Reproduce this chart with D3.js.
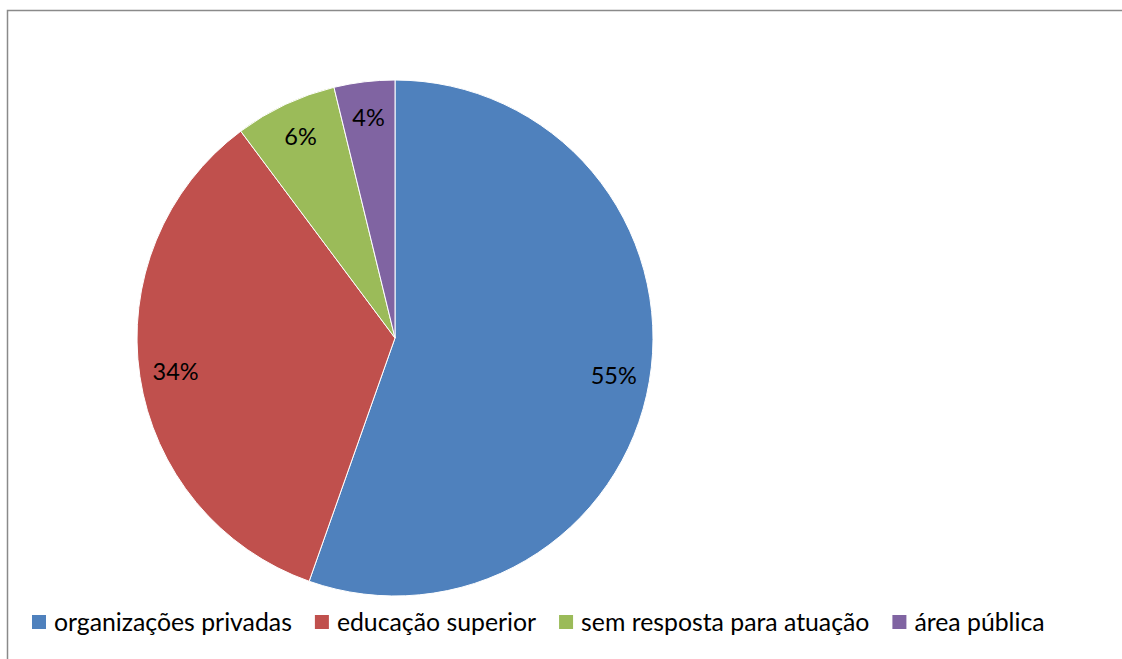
<!DOCTYPE html>
<html><head><meta charset="utf-8">
<script src="https://cdn.jsdelivr.net/npm/d3@7"></script>
<style>html,body{margin:0;padding:0;background:#fff;overflow:hidden}</style>
</head><body>
<svg id="c" width="1122" height="659"></svg>
<script>
const categories = ["organizações privadas", "educação superior", "sem resposta para atuação", "área pública"];
const values = [55.4, 34.4, 6.4, 3.8];
const labels = ["55%", "34%", "6%", "4%"];
const colors = ["#4F81BD", "#C0504D", "#9BBB59", "#8064A2"];

const svg = d3.select("#c");
const font = "Lato, 'Open Sans', sans-serif";

// frame
svg.append("rect").attr("x", 7.5).attr("y", 10.5).attr("width", 1140).attr("height", 700)
  .attr("fill", "none").attr("stroke", "#8a8a8a").attr("stroke-width", 1.5);

const cx = 395, cy = 338, r = 258;
const pie = d3.pie().sort(null).value(d => d)(values);
const arc = d3.arc().innerRadius(0).outerRadius(r);
const labelArc = d3.arc().innerRadius(r * 0.86).outerRadius(r * 0.86);
const g = svg.append("g").attr("transform", `translate(${cx},${cy})`);
g.selectAll("path").data(pie).join("path")
  .attr("d", arc).attr("fill", (d, i) => colors[i])
  .attr("stroke", "#fff").attr("stroke-width", 1);
g.selectAll("text").data(pie).join("text")
  .attr("transform", d => { const c = labelArc.centroid(d); return `translate(${c[0]},${c[1]})`; })
  .attr("text-anchor", "middle").attr("dy", "0.35em")
  .style("font-family", font).style("font-size", "23.5px").attr("fill", "#000")
  .text((d, i) => labels[i]);

// legend
const lg = svg.append("g");
let x = 32;
const ly = 622;
categories.forEach((c, i) => {
  lg.append("rect").attr("x", x).attr("y", ly - 7).attr("width", 14).attr("height", 14).attr("fill", colors[i]);
  const t = lg.append("text").attr("x", x + 22).attr("y", ly).attr("dy", "0.35em")
    .style("font-family", font).style("font-size", "24.8px").attr("fill", "#000").text(c);
  x += 22 + t.node().getComputedTextLength() + 23;
});
</script>
</body></html>
